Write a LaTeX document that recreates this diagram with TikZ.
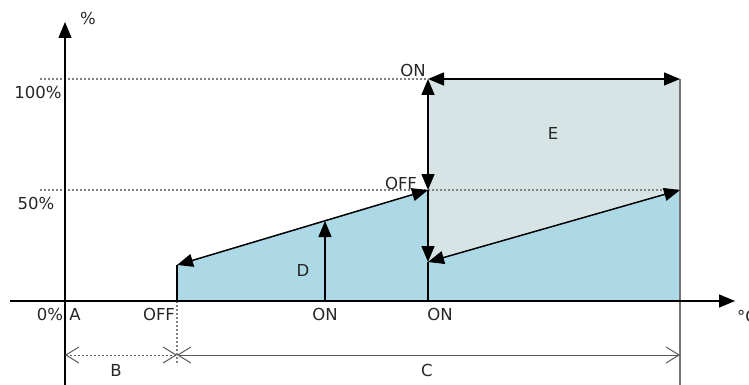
\documentclass[tikz,border=0pt]{standalone}
\usepackage{fontspec}
\setmainfont{DejaVu Sans}
\usetikzlibrary{arrows.meta}
\definecolor{fillD}{RGB}{173,216,230}
\definecolor{fillE}{RGB}{214,228,229}
\definecolor{dimgray}{RGB}{90,90,90}
\begin{document}
\begin{tikzpicture}[x=1pt,y=-1pt,
  lbl/.style={font=\fontsize{16.5}{18}\selectfont, inner sep=0pt, text=black!85},
  arr/.style={-{Triangle[length=16pt,width=13pt]}, line width=1.5pt},
  darr/.style={{Triangle[length=16pt,width=13pt]}-{Triangle[length=16pt,width=13pt]}, line width=1.5pt},
  dimarr/.style={{Straight Barb[length=13pt,width=16pt]}-{Straight Barb[length=13pt,width=16pt]}, line width=1pt, dimgray},
  guide/.style={dash pattern=on 2pt off 2pt, line width=1.3pt, black!50},
  axis/.style={line width=1.5pt, -{Triangle[length=16pt,width=13pt]}}]
\useasboundingbox (0,0) rectangle (749,385);
% coordinates
\coordinate (off) at (177,301);
\coordinate (offtop) at (177,265);
\coordinate (p50) at (428,190);
\coordinate (p100) at (428,79);
\coordinate (pmid) at (428,262);
\coordinate (pbase) at (428,301);
\coordinate (r100) at (680,79);
\coordinate (r50) at (680,190);
\coordinate (rbase) at (680,301);
\coordinate (dtop) at (325,221);
\coordinate (dbase) at (325,301);
% fills
\fill[fillE] (p100) -- (r100) -- (r50) -- (pmid) -- cycle;
\fill[fillD] (off) -- (offtop) -- (p50) -- (pmid) -- (r50) -- (rbase) -- cycle;
% guides
\draw[guide] (40,79) -- (p100);
\draw[guide] (40,190) -- (r50);
\draw[guide] (off) -- (177,365);
% right boundary
\draw[line width=1.3pt, black!55] (680,79) -- (680,385);
\draw[line width=1.5pt] (off) -- (offtop);
% axes
\draw[axis] (10,301) -- (735,301);
\draw[axis] (65,385) -- (65,22);
% arrows
\draw[darr] (offtop) -- (p50);
\draw[darr] (pmid) -- (r50);
\draw[darr] (p100) -- (r100);
\draw[darr] (p100) -- (p50);
\draw[arr] (p50) -- (pmid);
\draw[line width=1.5pt] (pmid) -- (pbase);
\draw[arr] (dbase) -- (dtop);
% dimensions
\draw[dimarr, dash pattern=on 2pt off 2pt] (65,355) -- (177,355);
\draw[dimarr] (177,355) -- (680,355);
% labels
\node[lbl] (pct) at (88,18) {\%};
\node[lbl, anchor=west] (degc) at (737,316) {°C};
\node[lbl] (l100) at (38,92) {100\%};
\node[lbl] (l50) at (36,203) {50\%};
\node[lbl] (l0) at (50,314) {0\%};
\node[lbl] (la) at (75,314) {A};
\node[lbl] (loff) at (159,314) {OFF};
\node[lbl] (lon1) at (325,314) {ON};
\node[lbl] (lon2) at (440,314) {ON};
\node[lbl] (lonT) at (413,70) {ON};
\node[lbl] (loffM) at (401,183) {OFF};
\node[lbl] (lD) at (303,270) {D};
\node[lbl] (lE) at (553,133) {E};
\node[lbl] (lB) at (116,370) {B};
\node[lbl] (lC) at (427,370) {C};
\end{tikzpicture}
\end{document}
